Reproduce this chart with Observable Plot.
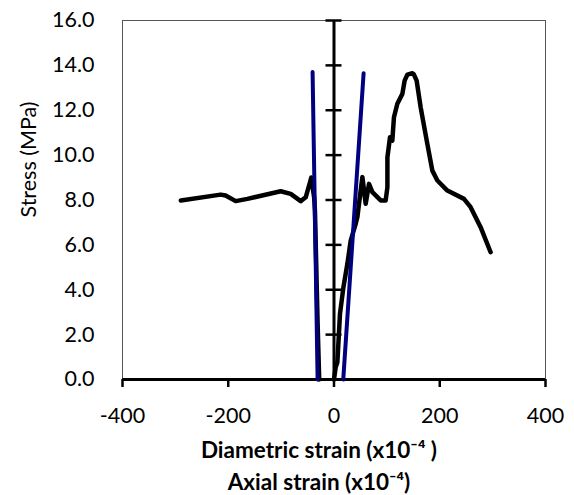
<!DOCTYPE html>
<html>
<head>
<meta charset="utf-8">
<script src="https://cdn.jsdelivr.net/npm/d3@7"></script>
<script src="https://cdn.jsdelivr.net/npm/@observablehq/plot@0.6"></script>
<style>
  html, body { margin: 0; padding: 0; background: #fff; }
  g[aria-label="x title"] text { letter-spacing: 1.1px; }
</style>
</head>
<body>
<div id="chart"></div>
<script>
// Diametric strain (x10^-4) vs stress (MPa) — black, left side
const diaX = [-28, -31, -34, -36, -37.5, -43, -45.4, -53.5, -63, -81.9, -100.8, -163.8, -186, -205, -214.4, -289.7];
const diaY = [0, 2.5, 5.5, 7.5, 8.1, 9.0, 8.79, 8.12, 7.95, 8.27, 8.39, 8.05, 7.95, 8.2, 8.24, 7.98];

// Axial strain (x10^-4) vs stress (MPa) — black, right side
const axX = [0, 3.2, 6.4, 11.3, 17.8, 25.3, 31.6, 41, 44.2, 47.3, 53.7, 59.9, 66.2, 72.6, 88.3, 97.7, 101, 101, 105.9, 110.3, 113.4, 119.8, 129.3, 133.6, 138.7, 148.2, 151.2, 156.3, 163.9, 176.5, 186, 195.5, 214.4, 245.8, 258.4, 277.3, 296.2];
const axY = [0, 0.55, 0.77, 2.93, 4.11, 5.16, 6.19, 6.94, 7.23, 7.83, 9.02, 7.83, 8.72, 8.35, 7.98, 7.98, 8.57, 9.9, 10.8, 10.65, 11.69, 12.29, 12.73, 13.32, 13.59, 13.65, 13.59, 13.32, 12.13, 10.5, 9.31, 8.87, 8.42, 8.05, 7.68, 6.79, 5.67];

// Linear fits — navy
const fitDiaX = [-31, -40.5];
const fitDiaY = [0, 13.7];
const fitAxX = [17.5, 56];
const fitAxY = [0, 13.65];

const xTicks = [-400, -200, 0, 200, 400];
const yTicks = [0, 2, 4, 6, 8, 10, 12, 14, 16];
const xTitle1 = "Diametric strain (x10⁻⁴ )";
const xTitle2 = "Axial strain (x10⁻⁴)";
const yTitle = "Stress (MPa)";

const toPts = (xs, ys) => xs.map((x, i) => ({x, y: ys[i]}));
const dia = toPts(diaX, diaY);
const ax = toPts(axX, axY);
const fitDia = toPts(fitDiaX, fitDiaY);
const fitAx = toPts(fitAxX, fitAxY);

const chart = Plot.plot({
  width: 574,
  height: 495,
  marginLeft: 122,
  marginRight: 29,
  marginTop: 20,
  marginBottom: 116,
  style: {fontFamily: "Lato, 'Open Sans', sans-serif", fontSize: "21.5px", color: "#000", background: "#fff", overflow: "visible"},
  x: {domain: [-400, 400]},
  y: {domain: [0, 16]},
  marks: [
    Plot.frame({stroke: "#555", strokeWidth: 1}),
    Plot.axisX(xTicks, {tickSize: 8, tickPadding: 20, strokeWidth: 2.5, stroke: "#000", tickFormat: d => String(d), label: null}),
    Plot.axisY(yTicks, {tickSize: 0, tickPadding: 28, tickFormat: d => d.toFixed(1), label: null}),
    Plot.ruleY([0], {stroke: "#000", strokeWidth: 3}),
    Plot.ruleX([0], {stroke: "#000", strokeWidth: 3}),
    Plot.ruleY(yTicks, {y: d => d, x1: 0, x2: 0, insetLeft: -8, insetRight: -8, stroke: "#000", strokeWidth: 2.5}),
    Plot.line(dia, {x: "x", y: "y", stroke: "#000", strokeWidth: 4.5, strokeLinecap: "round", strokeLinejoin: "round"}),
    Plot.line(ax, {x: "x", y: "y", stroke: "#000", strokeWidth: 4.5, strokeLinecap: "round", strokeLinejoin: "round"}),
    Plot.line(fitDia, {x: "x", y: "y", stroke: "#000080", strokeWidth: 4, strokeLinecap: "round"}),
    Plot.line(fitAx, {x: "x", y: "y", stroke: "#000080", strokeWidth: 4, strokeLinecap: "round"}),
    Plot.text([xTitle1], {frameAnchor: "bottom", dx: -15, dy: 71, ariaLabel: "x title", fontWeight: "bold", fontSize: 22.5, textAnchor: "middle", lineAnchor: "middle"}),
    Plot.text([xTitle2], {frameAnchor: "bottom", dx: -15, dy: 103, ariaLabel: "x title", fontWeight: "bold", fontSize: 22.5, textAnchor: "middle", lineAnchor: "middle"}),
    Plot.text([yTitle], {frameAnchor: "left", dx: -93, dy: -40.5, rotate: -90, textAnchor: "middle", lineAnchor: "middle"})
  ]
});
document.getElementById("chart").appendChild(chart);
</script>
</body>
</html>
